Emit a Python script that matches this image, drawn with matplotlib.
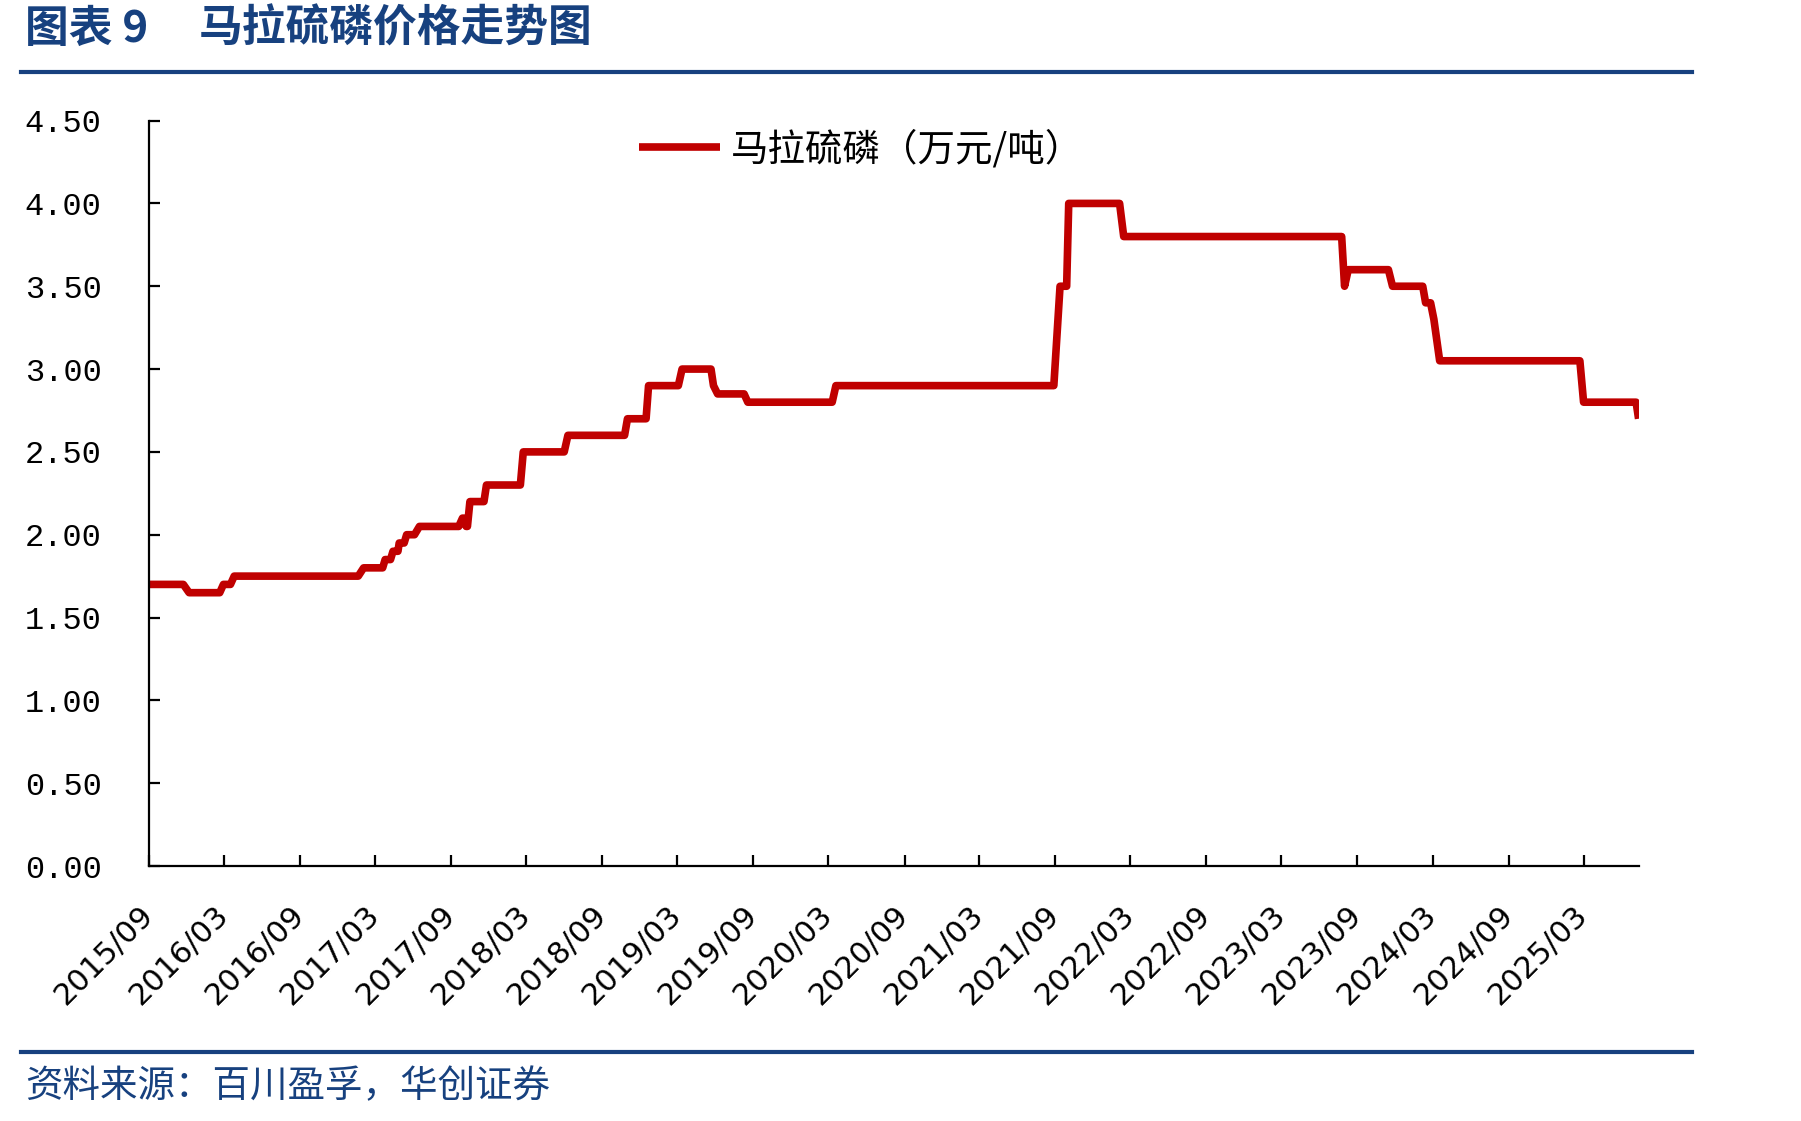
import matplotlib
matplotlib.use('Agg')
import matplotlib.pyplot as plt
from matplotlib.lines import Line2D
from matplotlib.ticker import FormatStrFormatter
import pandas as pd

plt.rcParams['font.family'] = ['Noto Sans CJK SC', 'DejaVu Sans']

# 马拉硫磷价格（万元/吨），读自原图
dates = ['2015-09-01', '2015-11-23', '2015-12-07', '2016-02-19', '2016-02-28',
         '2016-03-16', '2016-03-25', '2017-01-19', '2017-02-01', '2017-03-19',
         '2017-03-25', '2017-04-07', '2017-04-13', '2017-04-25', '2017-04-28',
         '2017-05-10', '2017-05-16', '2017-06-04', '2017-06-16', '2017-09-19',
         '2017-09-28', '2017-10-01', '2017-10-07', '2017-10-10', '2017-10-16',
         '2017-11-19', '2017-11-25', '2018-02-15', '2018-02-22', '2018-06-01',
         '2018-06-10', '2018-10-25', '2018-11-01', '2018-12-16', '2018-12-22',
         '2019-03-04', '2019-03-13', '2019-05-22', '2019-05-28', '2019-06-07',
         '2019-08-10', '2019-08-19', '2020-03-10', '2020-03-19', '2021-08-28',
         '2021-09-12', '2021-09-28', '2021-10-03', '2022-02-03', '2022-02-13',
         '2023-07-25', '2023-08-01', '2023-08-10', '2023-11-15', '2023-11-25',
         '2024-02-06', '2024-02-13', '2024-02-25', '2024-03-04', '2024-03-18',
         '2025-02-20', '2025-03-01', '2025-07-06', '2025-07-12']
prices = [1.70, 1.70, 1.65, 1.65, 1.70,
          1.70, 1.75, 1.75, 1.80, 1.80,
          1.85, 1.85, 1.90, 1.90, 1.95,
          1.95, 2.00, 2.00, 2.05, 2.05,
          2.10, 2.10, 2.05, 2.05, 2.20,
          2.20, 2.30, 2.30, 2.50, 2.50,
          2.60, 2.60, 2.70, 2.70, 2.90,
          2.90, 3.00, 3.00, 2.90, 2.85,
          2.85, 2.80, 2.80, 2.90, 2.90,
          3.50, 3.50, 4.00, 4.00, 3.80,
          3.80, 3.50, 3.60, 3.60, 3.50,
          3.50, 3.40, 3.40, 3.30, 3.05,
          3.05, 2.80, 2.80, 2.70]

y_ticks = [0, 0.5, 1.0, 1.5, 2.0, 2.5, 3.0, 3.5, 4.0, 4.5]
x_first_tick = '2015-09-01'
x_last_tick = '2025-03-01'
x_end = '2025-07-13'

title_no = '图表 9'
title = '马拉硫磷价格走势图'
series_name = '马拉硫磷（万元/吨）'
source = '资料来源：百川盈孚，华创证券'

blue = '#17417F'
red = '#C00000'

W, H = 1801, 1121
fig = plt.figure(figsize=(W / 100, H / 100), dpi=100)
ax = fig.add_axes([149 / W, 1 - 866 / H, (1639 - 149) / W, (866 - 120.6) / H])

ax.plot(pd.to_datetime(dates), prices, color=red, lw=5.5,
        solid_joinstyle='round', solid_capstyle='butt', label=series_name)

ax.set_ylim(0, 4.5)
ax.set_yticks(y_ticks)
ax.yaxis.set_major_formatter(FormatStrFormatter('%.2f'))
ax.set_xlim(pd.Timestamp(x_first_tick), pd.Timestamp(x_end))
ticks = pd.date_range(x_first_tick, x_last_tick, freq='6MS')
ax.set_xticks(ticks)
ax.set_xticklabels([t.strftime('%Y/%m') for t in ticks], rotation=45,
                   rotation_mode='anchor', ha='right', va='center',
                   fontsize=22, family='DejaVu Sans')
for lab in ax.get_yticklabels():
    lab.set_family('Liberation Mono')
    lab.set_fontsize(23)

for s in ['top', 'right']:
    ax.spines[s].set_visible(False)
for s in ['left', 'bottom']:
    ax.spines[s].set_linewidth(1.6)
ax.tick_params(direction='in', length=8, width=1.6)
ax.tick_params(axis='y', pad=34)
ax.tick_params(axis='x', pad=32)

ax.legend(loc='center', bbox_to_anchor=(0.478, 0.961), frameon=False,
          fontsize=27, handlelength=2.15, handletextpad=0.3)

# 标题和来源
fig.text(25 / W, 1 - 29 / H, title_no, fontsize=31.5, fontweight='bold',
         color=blue, va='center')
fig.text(199 / W, 1 - 29 / H, title, fontsize=31.5, fontweight='bold',
         color=blue, va='center')
fig.text(25 / W, 1 - 1087 / H, source, fontsize=27, color=blue,
         va='center', style='italic')
fig.add_artist(Line2D([21 / W, 1692 / W], [1 - 72 / H] * 2, color=blue, lw=3))
fig.add_artist(Line2D([21 / W, 1692 / W], [1 - 1052 / H] * 2, color=blue, lw=3))

fig.savefig('out.png', dpi=100)
